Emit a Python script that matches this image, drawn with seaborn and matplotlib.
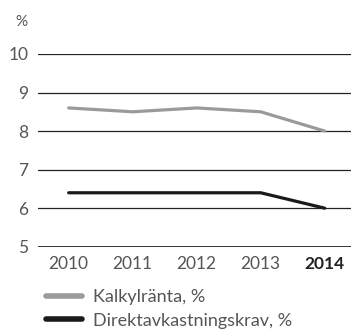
import pandas as pd
import matplotlib.pyplot as plt
import seaborn as sns
from matplotlib.lines import Line2D

years = [2010, 2011, 2012, 2013, 2014]
kalkylranta = [8.6, 8.5, 8.6, 8.5, 8.0]
direktavkastning = [6.4, 6.4, 6.4, 6.4, 6.0]
series_names = ["Kalkylränta, %", "Direktavkastningskrav, %"]
y_ticks = [5, 6, 7, 8, 9, 10]

df = pd.DataFrame({
    "year": years * 2,
    "value": kalkylranta + direktavkastning,
    "series": [series_names[0]] * 5 + [series_names[1]] * 5,
})

sns.set_style("white")
plt.rcParams['font.family'] = ['Lato', 'DejaVu Sans']

fig = plt.figure(figsize=(3.51, 3.29), dpi=100)
ax = fig.add_axes([0.108, 0.25, 0.892, 0.586])

palette = {series_names[0]: "#9a9a9a", series_names[1]: "#1a1a1a"}
sns.lineplot(data=df, x="year", y="value", hue="series", palette=palette,
             linewidth=2.3, ax=ax, legend=False)

for t in y_ticks:
    ax.axhline(t, color="#222222", lw=2.0 if t == 5 else 0.9, zorder=0)

ax.set_xlim(2009.52, 2014.41)
ax.set_ylim(5, 10)
ax.set_yticks(y_ticks)
ax.set_xticks(years)
ax.set_xticklabels([str(y) for y in years])
for lbl in ax.get_xticklabels():
    lbl.set_fontweight("bold" if lbl.get_text() == "2014" else "normal")
    lbl.set_color("#222222" if lbl.get_text() == "2014" else "#555555")
for lbl in ax.get_yticklabels():
    lbl.set_color("#555555")
ax.tick_params(axis="both", labelsize=12.5, length=0)
ax.tick_params(axis="y", pad=7)
ax.tick_params(axis="x", pad=7)
ax.set_xlabel("")
ax.set_ylabel("")
for s in ax.spines.values():
    s.set_visible(False)

fig.text(0.043, 0.933, "%", fontsize=11, color="#555555", va="center")

handles = [Line2D([0], [0], color=palette[n], lw=4, solid_capstyle="round") for n in series_names]
fig.legend(handles, series_names, loc="upper left", bbox_to_anchor=(0.085, 0.17),
           frameon=False, handlelength=2.0, handletextpad=0.6,
           labelspacing=0.4, labelcolor="#555555", prop={"size": 13})

fig.savefig("out.png", dpi=100)
